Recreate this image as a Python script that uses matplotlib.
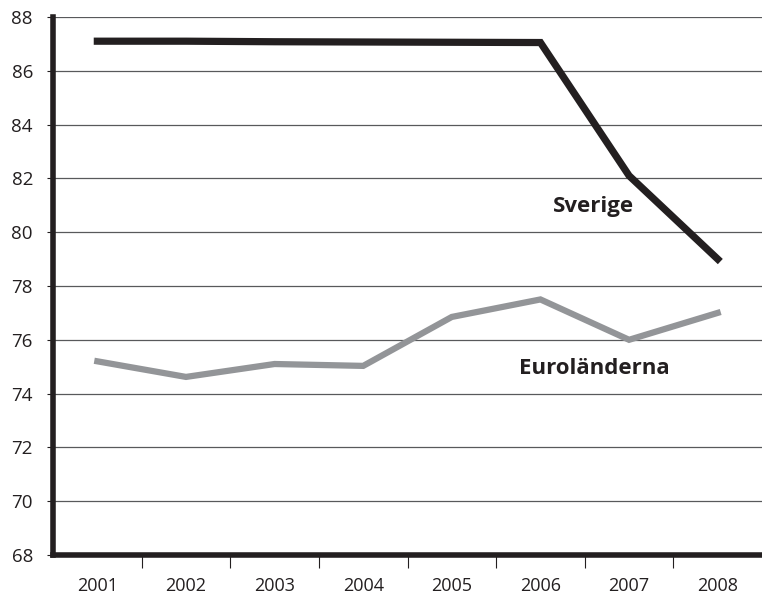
import matplotlib
matplotlib.use("Agg")
import matplotlib.pyplot as plt

years = ["2001", "2002", "2003", "2004", "2005", "2006", "2007", "2008"]
sverige = [87.1, 87.1, 87.08, 87.07, 87.06, 87.05, 82.1, 79.0]
euro = [75.2, 74.62, 75.1, 75.03, 76.85, 77.5, 76.0, 77.0]
yticks = [68, 70, 72, 74, 76, 78, 80, 82, 84, 86, 88]

plt.rcParams['font.family'] = ['Open Sans', 'DejaVu Sans']

fig = plt.figure(figsize=(7.62, 5.98), dpi=100)
ax = fig.add_axes([0.0696, 0.0719, 0.9304, 0.8997])

x = list(range(len(years)))
ax.plot(x, euro, color='#939598', lw=4.5, solid_joinstyle='miter', zorder=3)
ax.plot(x, sverige, color='#231f20', lw=5.2, solid_joinstyle='miter', zorder=4)

ax.set_xlim(-0.5, 7.5)
ax.set_ylim(68, 88)
ax.set_yticks(yticks)
ax.set_yticklabels([str(v) for v in yticks], fontsize=13.5, color='#231f20')
ax.set_xticks(x)
ax.set_xticklabels(years, fontsize=13, color='#231f20')
ax.set_xticks([i + 0.5 for i in range(7)], minor=True)
ax.tick_params(axis='x', which='major', length=0, pad=16)
ax.tick_params(axis='x', which='minor', length=9.5, width=0.8, color='#231f20', direction='out')
ax.tick_params(axis='y', which='major', length=4.5, width=0.8, color='#231f20', pad=10)

ax.grid(axis='y', color='#58595b', lw=0.9, zorder=1)
ax.set_axisbelow(True)

for s in ['top', 'right']:
    ax.spines[s].set_visible(False)
for s in ['left', 'bottom']:
    ax.spines[s].set_linewidth(4)
    ax.spines[s].set_color('#231f20')
    ax.spines[s].set_zorder(5)

ax.text(5.60, 80.75, "Sverige", fontsize=16, fontweight='bold', color='#231f20',
        ha='center', va='baseline')
ax.text(5.61, 74.73, "Euroländerna", fontsize=16, fontweight='bold', color='#231f20',
        ha='center', va='baseline')

fig.savefig("out.png", dpi=100)
